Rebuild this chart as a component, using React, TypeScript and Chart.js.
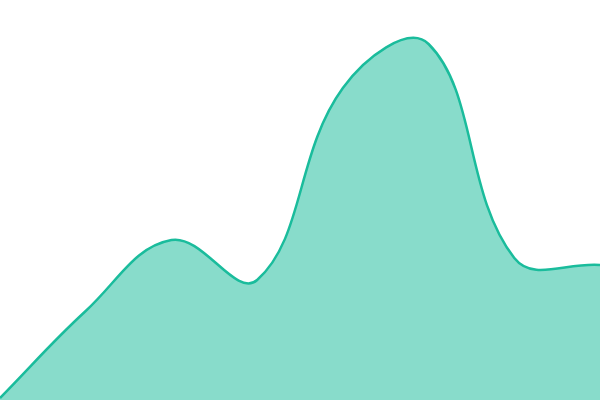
import React, { useEffect, useRef } from 'react';
import Chart from 'chart.js/auto';

// eight evenly spaced points (0..400 scale)
const labels = ['1', '2', '3', '4', '5', '6', '7', '8'];
const values = [2, 89, 160, 120, 312, 356, 142, 135];

const lineColor = '#1abc9c';
const fillColor = 'rgba(26, 188, 156, 0.52)';

export default function App() {
    const canvasRef = useRef<HTMLCanvasElement>(null);

    useEffect(() => {
        if (!canvasRef.current) return;
        const chart = new Chart(canvasRef.current, {
            type: 'line',
            data: {
                labels,
                datasets: [
                    {
                        data: values,
                        borderColor: lineColor,
                        backgroundColor: fillColor,
                        borderWidth: 2.5,
                        fill: 'origin',
                        tension: 0.4,
                        pointRadius: 0,
                    },
                ],
            },
            options: {
                animation: false,
                responsive: false,
                layout: { padding: 0 },
                plugins: {
                    legend: { display: false },
                    tooltip: { enabled: false },
                },
                scales: {
                    x: { display: false },
                    y: { display: false, min: 0, max: 400 },
                },
            },
        });
        return () => chart.destroy();
    }, []);

    return (
        <div style={{ position: 'fixed', top: 0, left: 0, width: 600, height: 400, background: '#fff' }}>
            <canvas ref={canvasRef} width={600} height={400}></canvas>
        </div>
    );
}
